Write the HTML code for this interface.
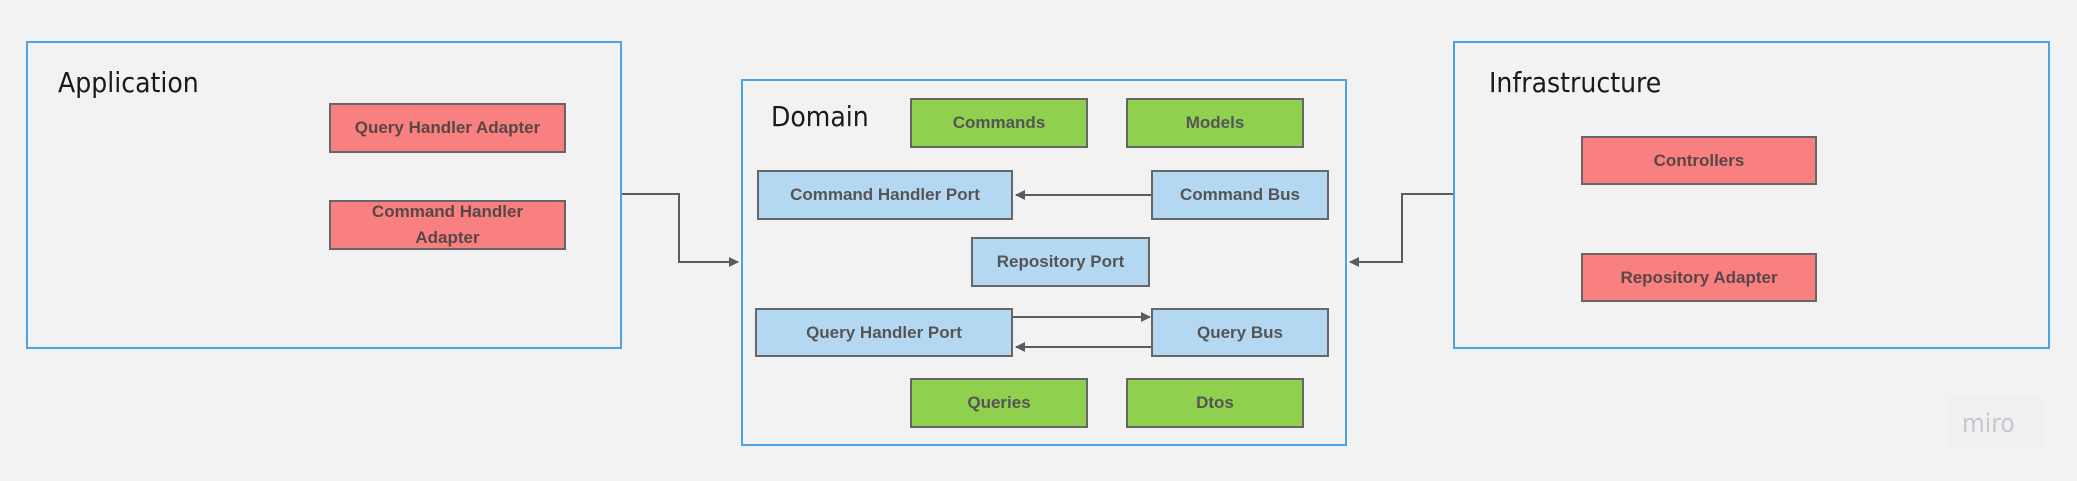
<!DOCTYPE html>
<html><head><meta charset="utf-8"><style>
body{margin:0;width:2077px;height:481px;background:#f2f2f2;position:relative;overflow:hidden;font-family:"Liberation Sans",sans-serif}
.c{position:absolute;border:2px solid #4ba3e3;box-sizing:border-box}
.t{position:absolute;font-size:28px;color:#1a1a1a;font-family:"DejaVu Sans Condensed","Liberation Sans",sans-serif;font-weight:300}
.b{position:absolute;box-sizing:border-box;border:2px solid #666;display:flex;align-items:center;justify-content:center;text-align:center;font-weight:bold;font-size:17px;color:#555;line-height:26px}
.r{background:#f88080;color:#5a4646}
.g{background:#8fd14f}
.l{background:#b5d8f2}
</style></head><body>
<div class="c" style="left:26px;top:41px;width:596px;height:308px"></div>
<div class="t" style="left:58px;top:66px">Application</div>
<div class="b r" style="left:329px;top:103px;width:237px;height:50px">Query Handler Adapter</div>
<div class="b r" style="left:329px;top:200px;width:237px;height:50px">Command Handler<br>Adapter</div>

<div class="c" style="left:741px;top:79px;width:606px;height:367px"></div>
<div class="t" style="left:771px;top:100px">Domain</div>
<div class="b g" style="left:910px;top:98px;width:178px;height:50px">Commands</div>
<div class="b g" style="left:1126px;top:98px;width:178px;height:50px">Models</div>
<div class="b l" style="left:757px;top:170px;width:256px;height:50px">Command Handler Port</div>
<div class="b l" style="left:1151px;top:170px;width:178px;height:50px">Command Bus</div>
<div class="b l" style="left:971px;top:237px;width:179px;height:50px">Repository Port</div>
<div class="b l" style="left:755px;top:308px;width:258px;height:49px">Query Handler Port</div>
<div class="b l" style="left:1151px;top:308px;width:178px;height:49px">Query Bus</div>
<div class="b g" style="left:910px;top:378px;width:178px;height:50px">Queries</div>
<div class="b g" style="left:1126px;top:378px;width:178px;height:50px">Dtos</div>

<div class="c" style="left:1453px;top:41px;width:597px;height:308px"></div>
<div class="t" style="left:1489px;top:66px">Infrastructure</div>
<div class="b r" style="left:1581px;top:136px;width:236px;height:49px">Controllers</div>
<div class="b r" style="left:1581px;top:253px;width:236px;height:49px">Repository Adapter</div>

<div style="position:absolute;left:1947px;top:397px;width:96px;height:51px;background:#f0f0f0"></div>
<div style="position:absolute;left:1962px;top:409px;font-size:26px;color:#c6c6ce;font-family:'DejaVu Sans Condensed',sans-serif">miro</div>

<svg width="2077" height="481" style="position:absolute;left:0;top:0">
<defs><marker id="a" markerWidth="10" markerHeight="10" refX="9" refY="5" orient="auto" markerUnits="userSpaceOnUse"><path d="M0,0 L10,5 L0,10 z" fill="#5c5c5c"/></marker></defs>
<g stroke="#5c5c5c" stroke-width="2" fill="none">
<path d="M622,194 H679 V262 H738" marker-end="url(#a)"/>
<path d="M1453,194 H1402 V262 H1350" marker-end="url(#a)"/>
<path d="M1151,195 H1016" marker-end="url(#a)"/>
<path d="M1013,317 H1150" marker-end="url(#a)"/>
<path d="M1151,347 H1016" marker-end="url(#a)"/>
</g></svg>
</body></html>
